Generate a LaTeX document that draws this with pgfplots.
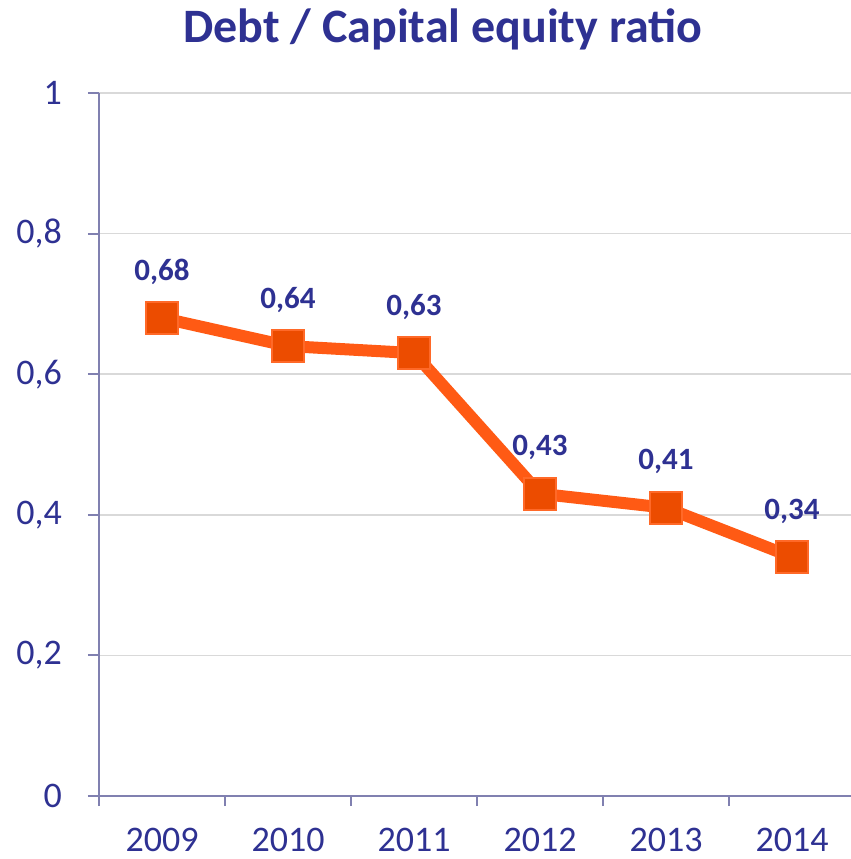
\documentclass[border=0pt]{standalone}
\usepackage{fontspec}
\setmainfont{Carlito}
\usepackage{pgfplots}
\pgfplotsset{compat=1.18}
\definecolor{txtblue}{RGB}{46,49,146}
\definecolor{axisline}{RGB}{128,128,176}
\definecolor{gridgray}{RGB}{217,217,217}
\definecolor{lineorange}{RGB}{255,90,20}
\definecolor{markfill}{RGB}{236,76,0}
\definecolor{markdraw}{RGB}{255,105,40}
\begin{document}
\begin{tikzpicture}
\useasboundingbox (-49.5pt,-31.5pt) rectangle (376pt,398pt);
\begin{axis}[
  scale only axis,
  width=376pt, height=351.5pt,
  xmin=-0.5, xmax=5.468,
  ymin=0, ymax=1,
  axis x line=bottom, axis y line=left,
  axis line style={-, axisline, line width=1pt},
  xtick={0,1,2,3,4,5},
  xticklabels={2009,2010,2011,2012,2013,2014},
  minor xtick={-0.5,0.5,1.5,2.5,3.5,4.5},
  major x tick style={draw=none},
  minor x tick style={axisline, line width=1pt},
  minor tick length=5pt,
  ytick={0,0.2,0.4,0.6,0.8,1},
  y tick style={axisline, line width=1pt},
  major tick length=5.5pt,
  tick align=outside,
  ymajorgrids,
  grid style={gridgray, line width=0.8pt},
  /pgf/number format/assume math mode=true,
  /pgf/number format/use comma,
  tick label style={font=\fontsize{18}{20}\selectfont, text=txtblue},
  xticklabel style={yshift=-7pt},
  yticklabel style={xshift=-9.5pt},
  title={Debt / Capital equity ratio},
  title style={at={(axis description cs:0.457,1)}, anchor=base, yshift=19.5pt,
    font=\fontsize{24}{26}\selectfont\bfseries, text=txtblue},
  nodes near coords,
  nodes near coords style={font=\fontsize{15.5}{17}\selectfont\bfseries, text=txtblue,
    anchor=center, yshift=23pt,
    /pgf/number format/fixed, /pgf/number format/precision=2,
    /pgf/number format/use comma},
  clip=false,
]
\addplot[lineorange, line width=6pt, mark=square*, mark size=8pt,
  mark options={fill=markfill, draw=markdraw, line width=1pt}]
  coordinates {(0,0.68) (1,0.64) (2,0.63) (3,0.43) (4,0.41) (5,0.34)};
\end{axis}
\end{tikzpicture}
\end{document}
